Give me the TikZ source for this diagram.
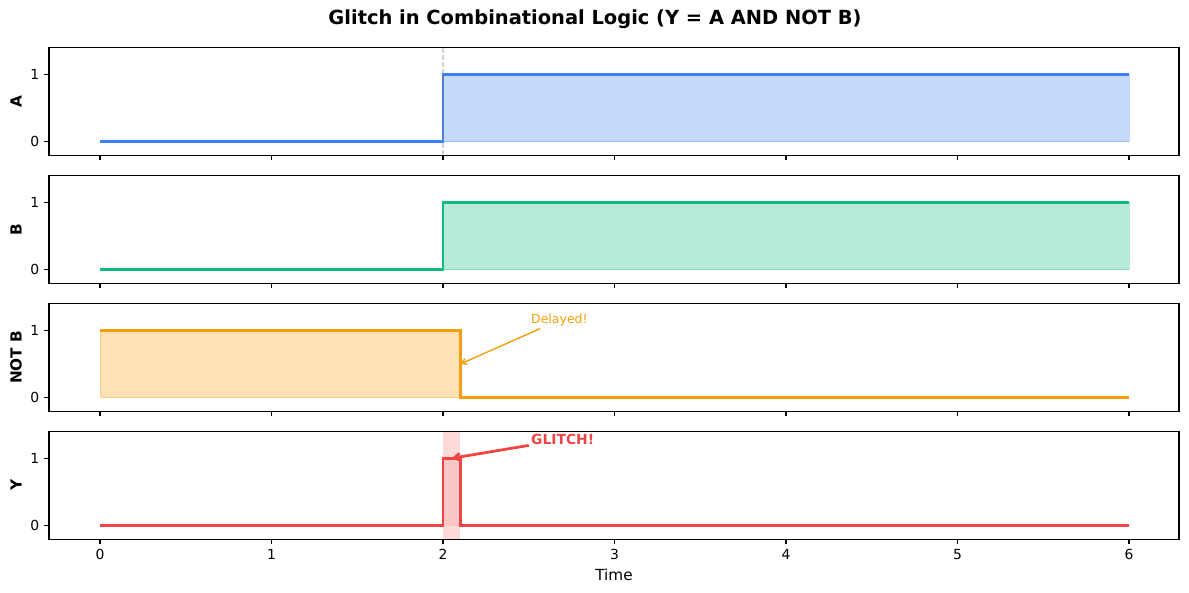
\documentclass[tikz,border=0pt]{standalone}
\usepackage{fontspec}
\setmainfont{DejaVu Sans}
\usetikzlibrary{arrows.meta}
\definecolor{cA}{HTML}{3B82F6}
\definecolor{cB}{HTML}{10B981}
\definecolor{cN}{HTML}{F59E0B}
\definecolor{cY}{HTML}{EF4444}
\tikzset{
  frame/.style={draw=black, line width=0.56pt},
  tickline/.style={black, line width=0.56pt},
  ticklbl/.style={font=\fontsize{6.94}{8}\selectfont, inner sep=0pt},
  ylbl/.style={font=\fontsize{7.64}{9}\selectfont\bfseries, rotate=90, inner sep=0pt},
  sig/.style={line width=1.39pt, line join=miter},
  area/.style={fill opacity=0.3, draw opacity=0.3, line width=0.5pt},
}
\begin{document}
\begin{tikzpicture}[x=0.5pt,y=-0.5pt]
\useasboundingbox (0,0) rectangle (1189,593);
\node[font=\fontsize{9.72}{11}\selectfont\bfseries] (title) at (595,19) {Glitch in Combinational Logic (Y = A AND NOT B)};

% ---------- Panel A ----------
\begin{scope}[shift={(100,141.8)}, x=85.75pt, y=33.75pt]
  \filldraw[area, fill=cA, draw=cA] (2,0) rectangle (6,1);
  \draw[sig, cA] (0,0) -- (2,0) -- (2,1) -- (6,1);
  \draw[gray, opacity=0.35, line width=0.69pt, dash pattern=on 2.57pt off 1.1pt] (2,-0.2) -- (2,1.4);
\end{scope}
% ---------- Panel B ----------
\begin{scope}[shift={(100,269.8)}, x=85.75pt, y=33.75pt]
  \filldraw[area, fill=cB, draw=cB] (2,0) rectangle (6,1);
  \draw[sig, cB] (0,0) -- (2,0) -- (2,1) -- (6,1);
\end{scope}
% ---------- Panel NOT B ----------
\begin{scope}[shift={(100,397.8)}, x=85.75pt, y=33.75pt]
  \filldraw[area, fill=cN, draw=cN] (0,0) rectangle (2.1,1);
  \draw[sig, cN] (0,1) -- (2.1,1) -- (2.1,0) -- (6,0);
  \node[anchor=base west, inner sep=1pt, text=cN, font=\fontsize{6.25}{7}\selectfont] (delayed) at (2.5,1.1) {Delayed!};
  \coordinate (dtip) at (2.1,0.5);
  \draw[cN, line width=0.69pt, -{Straight Barb[length=2.6pt,width=3pt]}] (delayed) -- (dtip);
\end{scope}
% ---------- Panel Y ----------
\begin{scope}[shift={(100,525.8)}, x=85.75pt, y=33.75pt]
  \fill[cY, opacity=0.2] (2,-0.2) rectangle (2.1,1.4);
  \fill[cY, opacity=0.12] (2,0) rectangle (2.1,1);
  \draw[sig, cY] (0,0) -- (2,0) -- (2,1) -- (2.1,1) -- (2.1,0) -- (6,0);
  \node[anchor=base west, inner sep=1pt, text=cY, font=\fontsize{6.94}{8}\selectfont\bfseries] (glitch) at (2.5,1.2) {GLITCH!};
  \coordinate (gtip) at (2.05,1.0);
  \draw[cY, line width=1.39pt, -{Straight Barb[length=3pt,width=3.6pt]}] (glitch) -- (gtip);
\end{scope}

% ---------- frames, ticks, labels ----------
\foreach \T/\lab in {47.3/A, 175.3/B, 303.3/NOT B, 431.3/Y} {
  \draw[frame] (49,\T) rectangle (1179,\T+108);
  \draw[tickline] (49,\T+94.5) -- (44.1,\T+94.5);
  \draw[tickline] (49,\T+27) -- (44.1,\T+27);
  \node[ticklbl, anchor=east] at (39.5,\T+94.5) {0};
  \node[ticklbl, anchor=east] at (39.5,\T+27) {1};
  \foreach \k in {0,...,6} {
    \draw[tickline] (100+171.5*\k,\T+108) -- (100+171.5*\k,\T+112.9);
  }
  \node[ylbl] at (16,\T+54) {\lab};
}
\foreach \k in {0,...,6} {
  \node[ticklbl, anchor=north] (xt\k) at (100+171.5*\k,549) {\k};
}
\node[font=\fontsize{7.64}{9}\selectfont] (xlabel) at (614,575) {Time};
\end{tikzpicture}
\end{document}
